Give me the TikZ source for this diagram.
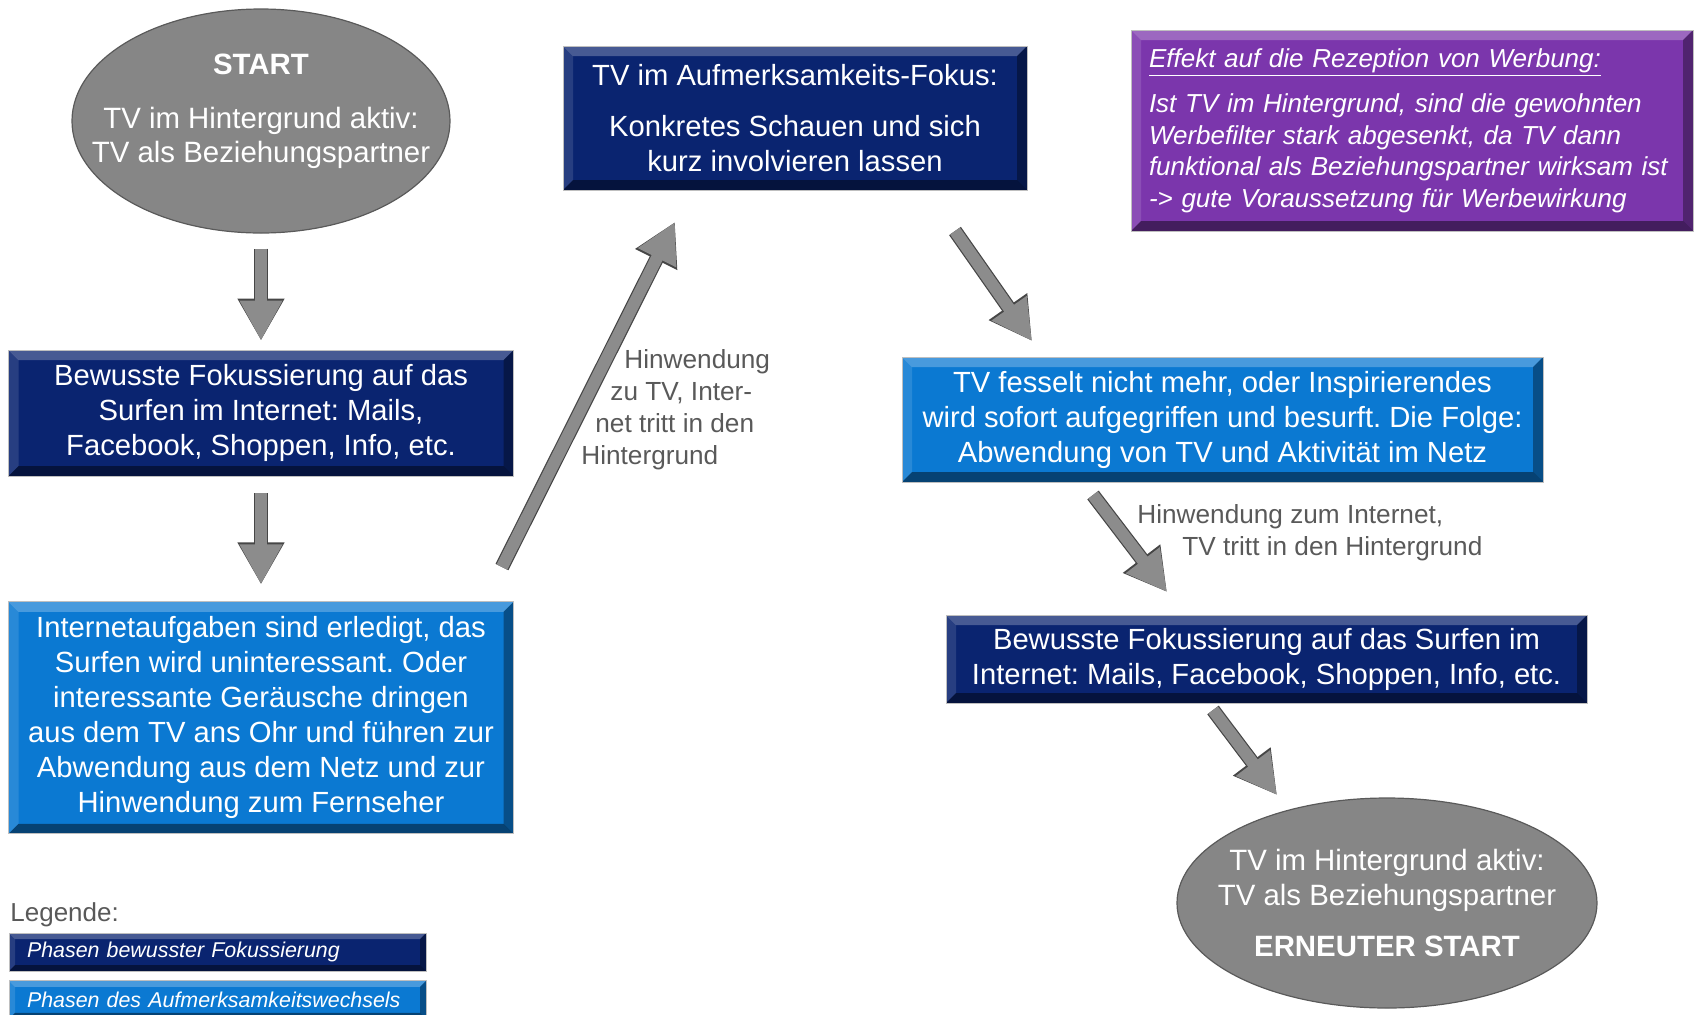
\documentclass[tikz,border=0pt]{standalone}
\usepackage{fontspec}
\setmainfont{Liberation Sans}
\frenchspacing
\usetikzlibrary{positioning,shapes.geometric,arrows.meta}

\definecolor{fokusblue}{HTML}{0A2470}
\definecolor{wechselblue}{HTML}{0B79D2}
\definecolor{effektpurple}{HTML}{7B36AC}
\definecolor{ovalgray}{HTML}{868686}
\definecolor{ovalrim}{HTML}{5A5A5A}
\definecolor{arrowgray}{HTML}{8C8C8C}
\definecolor{labelgray}{HTML}{595959}

\pgfdeclareradialshading{ovalshade}{\pgfpoint{0bp}{0bp}}{color(0bp)=(ovalgray); color(43bp)=(ovalgray); color(50bp)=(ovalrim)}

\tikzset{
  bevel/.style={path picture={
    \path (path picture bounding box.north west) coordinate (bnw)
          (path picture bounding box.north east) coordinate (bne)
          (path picture bounding box.south east) coordinate (bse)
          (path picture bounding box.south west) coordinate (bsw);
    \fill[white,opacity=.25] (bnw) -- (bne) -- ([shift={(-#1,-#1)}]bne) -- ([shift={(#1,-#1)}]bnw) -- cycle;
    \fill[white,opacity=.12] (bnw) -- (bsw) -- ([shift={(#1,#1)}]bsw) -- ([shift={(#1,-#1)}]bnw) -- cycle;
    \fill[black,opacity=.35] (bne) -- (bse) -- ([shift={(-#1,#1)}]bse) -- ([shift={(-#1,-#1)}]bne) -- cycle;
    \fill[black,opacity=.45] (bsw) -- (bse) -- ([shift={(-#1,#1)}]bse) -- ([shift={(#1,#1)}]bsw) -- cycle;
  }},
  bevel/.default=5pt,
  phasebox/.style={rectangle, draw=gray!50, line width=.4pt, text=white, align=center,
    font=\fontsize{14.6}{17.5}\selectfont, inner sep=0pt, bevel},
  fokusbox/.style={phasebox, fill=fokusblue},
  wechselbox/.style={phasebox, fill=wechselblue},
  oval/.style={ellipse, shade, shading=ovalshade, draw=ovalrim, line width=.6pt, inner sep=0pt},
  ovaltext/.style={text=white, align=center, inner sep=0pt, font=\fontsize{14.7}{16.8}\selectfont},
  hint/.style={text=labelgray, align=left, inner sep=0pt, font=\fontsize{13.1}{16}\selectfont},
  legbox/.style={phasebox, bevel=3pt, minimum width=208.5pt, minimum height=19pt,
    inner xsep=9pt, text width=190.5pt, align=left, font=\fontsize{10.7}{12}\selectfont\itshape},
  bigarrow/.style={draw=arrowgray, line width=6pt, -{Triangle[width=20pt,length=20pt]},
    preaction={draw=gray!55!black, line width=7.2pt, -{Triangle[width=22pt,length=21pt]}}}
}

\begin{document}
\begin{tikzpicture}[x=0.5pt, y=-0.5pt]
    \useasboundingbox (0,0) rectangle (1694,1014);

    % left column
    \node (start) [oval, minimum width=189pt, minimum height=112pt] at (261,121) {};
    \node (starttext) [ovaltext] at ([yshift=4.9pt]start.center)
        {\textbf{START}\\[10.3pt]TV im Hintergrund aktiv:\\TV als Beziehungspartner};
    \node (fokus1) [fokusbox, minimum width=252.5pt, minimum height=63pt, below=58pt of start]
        {Bewusste Fokussierung auf das\\Surfen im Internet: Mails,\\Facebook, Shoppen, Info, etc.};
    \node (aufgaben) [wechselbox, minimum width=252.5pt, minimum height=116pt, below=62.5pt of fokus1]
        {Internetaufgaben sind erledigt, das\\Surfen wird uninteressant. Oder\\interessante Geräusche dringen\\aus dem TV ans Ohr und führen zur\\Abwendung aus dem Netz und zur\\Hinwendung zum Fernseher};

    % middle and right
    \node (aufmerksam) [fokusbox, minimum width=232pt, minimum height=72pt] at (795,118)
        {TV im Aufmerksamkeits-Fokus:\\[8pt]Konkretes Schauen und sich\\kurz involvieren lassen};
    \node (effekt) [phasebox, fill=effektpurple, minimum width=281pt, minimum height=100.5pt,
        inner xsep=9pt, text width=263pt, align=left, font=\fontsize{13}{15.8}\selectfont\itshape] at (1412,130.5)
        {\underline{Effekt auf die Rezeption von Werbung:}\\[7pt]Ist TV im Hintergrund, sind die gewohnten\\Werbefilter stark abgesenkt, da TV dann\\funktional als Beziehungspartner wirksam ist\\-> gute Voraussetzung für Werbewirkung\\[2pt]};
    \node (ausgang) [wechselbox, minimum width=320.5pt, minimum height=62.5pt] at (1222.5,419.5)
        {TV fesselt nicht mehr, oder Inspirierendes\\wird sofort aufgegriffen und besurft. Die Folge:\\Abwendung von TV und Aktivität im Netz};
    \node (fokus2) [fokusbox, minimum width=320.5pt, minimum height=44pt] at (1266.5,659)
        {Bewusste Fokussierung auf das Surfen im\\Internet: Mails, Facebook, Shoppen, Info, etc.};
    \node (erneut) [oval, minimum width=210pt, minimum height=105pt] at (1387,903) {};
    \node (erneuttext) [ovaltext, font=\fontsize{14.7}{17.5}\selectfont] at (erneut.center)
        {TV im Hintergrund aktiv:\\TV als Beziehungspartner\\[8pt]\textbf{ERNEUTER START}};

    % arrow ends
    \coordinate (zuTVa) at (502,567);
    \coordinate (zuTVb) at (675,222);
    \coordinate (fesselta) at (955,231);
    \coordinate (fesseltb) at (1032,341);
    \coordinate (netza) at (1093,495);
    \coordinate (netzb) at (1167,592);
    \coordinate (neua) at (1213,710);
    \coordinate (neub) at (1277,795);

    \draw [bigarrow] ([yshift=-7.5pt]start.south) -- ([yshift=4.5pt]fokus1.north);
    \draw [bigarrow] ([yshift=-8.5pt]fokus1.south) -- ([yshift=8.5pt]aufgaben.north);
    \draw [bigarrow] (zuTVa) -- (zuTVb);
    \draw [bigarrow] (fesselta) -- (fesseltb);
    \draw [bigarrow] (netza) -- (netzb);
    \draw [bigarrow] (neua) -- (neub);

    \node (zuTVhint) [hint, anchor=west] at (581,410)
        {\hspace*{21.5pt}Hinwendung\\\hspace*{14.5pt}zu TV, Inter-\\\hspace*{7pt}net tritt in den\\Hintergrund};
    \node (netzhint) [hint, anchor=west] at (1137,533)
        {Hinwendung zum Internet,\\\hspace*{22.5pt}TV tritt in den Hintergrund};

    % legend
    \node (legende) [hint, anchor=west, font=\fontsize{13}{15}\selectfont] at (10,915) {Legende:};
    \node (leg1) [legbox, fill=fokusblue] at (217.5,952) {Phasen bewusster Fokussierung};
    \node (leg2) [legbox, fill=wechselblue, below=4.5pt of leg1] {Phasen des Aufmerksamkeitswechsels};
\end{tikzpicture}
\end{document}
